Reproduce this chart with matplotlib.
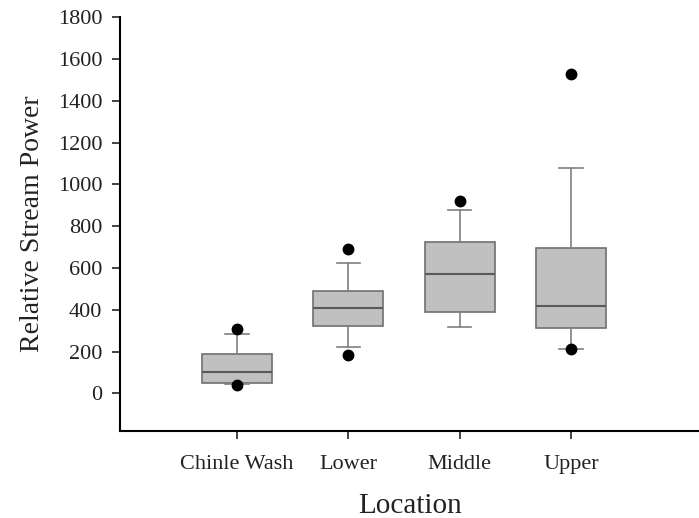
import matplotlib.pyplot as plt

plt.rcParams['font.family'] = ['Liberation Serif', 'DejaVu Serif']

# Summary statistics per location
locations = ['Chinle Wash', 'Lower', 'Middle', 'Upper']
q1 = [49, 322, 389, 314]
median = [102, 408, 573, 420]
q3 = [190, 488, 724, 693]
whisker_low = [43, 222, 317, 211]
whisker_high = [286, 624, 877, 1080]
outliers = [[38, 306], [185, 689], [919], [211, 1530]]

stats = []
for i, name in enumerate(locations):
    stats.append({
        'label': name,
        'q1': q1[i],
        'med': median[i],
        'q3': q3[i],
        'whislo': whisker_low[i],
        'whishi': whisker_high[i],
        'fliers': outliers[i],
    })

fig = plt.figure(figsize=(6.99, 5.18), dpi=100)
ax = fig.add_axes([0.172, 0.168, 0.828, 0.799])

ax.bxp(
    stats,
    positions=[1, 2, 3, 4],
    widths=0.63,
    patch_artist=True,
    showfliers=True,
    boxprops=dict(facecolor='#c0c0c0', edgecolor='#707070', linewidth=1.2),
    medianprops=dict(color='#5a5a5a', linewidth=1.5),
    whiskerprops=dict(color='#808080', linewidth=1.2),
    capprops=dict(color='#808080', linewidth=1.2),
    capwidths=0.21,
    flierprops=dict(marker='o', markerfacecolor='black', markeredgecolor='black',
                    markersize=7.5),
)

ax.set_xlim(-0.05, 5.15)
ax.set_ylim(-180, 1800)
ax.set_yticks(range(0, 1801, 200))
ax.set_xticks([1, 2, 3, 4])
ax.set_xticklabels(locations)

ax.spines['top'].set_visible(False)
ax.spines['right'].set_visible(False)
ax.spines['left'].set_linewidth(1.5)
ax.spines['bottom'].set_linewidth(1.5)

ax.tick_params(axis='both', direction='out', length=6, width=1.2,
               colors='#222222', labelsize=16)
ax.tick_params(axis='y', pad=7)
ax.tick_params(axis='x', pad=11)

ax.set_xlabel('Location', fontsize=21, labelpad=14, color='#222222')
ax.set_ylabel('Relative Stream Power', fontsize=20, labelpad=9, color='#222222')

fig.savefig('out.png', dpi=100)
